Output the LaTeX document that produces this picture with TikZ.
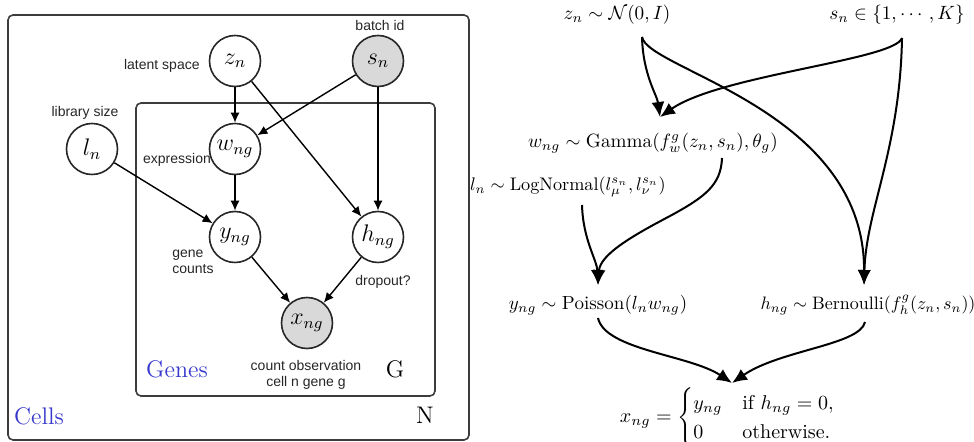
\documentclass[tikz,border=0pt]{standalone}
\usepackage{amsmath}
\usepackage{fontspec}
\usetikzlibrary{arrows.meta,calc}
\newfontfamily\lblfont{Liberation Sans}
\definecolor{platecol}{RGB}{60,60,60}
\definecolor{labelblue}{RGB}{55,55,205}
\definecolor{obsfill}{RGB}{217,217,217}
\begin{document}
\begin{tikzpicture}[x=0.5pt,y=-0.5pt,
  var/.style={circle,draw=black!85,line width=0.8pt,minimum size=25.5pt,inner sep=0pt,font=\large},
  obs/.style={var,fill=obsfill},
  lbl/.style={font=\lblfont\fontsize{7}{8}\selectfont,text=black!85,inner sep=0pt},
  plate/.style={draw=platecol,line width=0.8pt,rounded corners=2.5pt},
  edge/.style={-{Latex[length=5pt,width=4.5pt]},line width=0.7pt},
  formula/.style={inner sep=0pt},
  flow/.style={-{Latex[length=7.5pt,width=6.5pt]},line width=1pt},
]
\useasboundingbox (0,0) rectangle (974,442);
% plates
\draw[plate] (8,15) rectangle (469,440);
\draw[plate] (136,103) rectangle (435,396);
% variables
\node[var] (z) at (235,61) {$z_n$};
\node[obs] (s) at (378,61) {$s_n$};
\node[var] (l) at (92,149) {$l_n$};
\node[var] (w) at (235,149) {$w_{ng}$};
\node[var] (y) at (235,237) {$y_{ng}$};
\node[var] (h) at (378,237) {$h_{ng}$};
\node[obs] (x) at (307,323) {$x_{ng}$};
% edges
\draw[edge] (z) -- (w);
\draw[edge] (s) -- (w);
\draw[edge] (z) -- (h);
\draw[edge] (s) -- (h);
\draw[edge] (l) -- (y);
\draw[edge] (w) -- (y);
\draw[edge] (y) -- (x);
\draw[edge] (h) -- (x);
% labels
\node[lbl,anchor=east] (lat) at (200,66) {latent space};
\node[lbl] (bid) at (380,26) {batch id};
\node[lbl] (lib) at (85,113) {library size};
\node[lbl] (expr) at (177,160) {expression};
\node[lbl,align=left] (gc) at (193,262) {gene\\counts};
\node[lbl] (drop) at (383,282) {dropout?};
\node[lbl,align=center] (cobs) at (306,375) {count observation\\cell n gene g};
\node[font=\large,text=labelblue] (genes) at (177,369) {Genes};
\node[font=\large] (G) at (395,369) {G};
\node[font=\large,text=labelblue] (cells) at (39,416) {Cells};
\node[font=\large] (N) at (425,415) {N};
% right panel formulas
\node[formula,scale=0.96] (zf) at (617,15) {$z_n \sim \mathcal{N}(0, I)$};
\node[formula,scale=0.96] (sf) at (897,15) {$s_n \in \{1, \cdots, K\}$};
\node[formula,scale=0.96] (wf) at (653,143) {$w_{ng} \sim \mathrm{Gamma}(f_w^g(z_n, s_n), \theta_g)$};
\node[formula,scale=0.91] (lf) at (568,187) {$l_n \sim \mathrm{LogNormal}(l_\mu^{s_n}, l_\nu^{s_n})$};
\node[formula,scale=0.95] (yf) at (598,305) {$y_{ng} \sim \mathrm{Poisson}(l_n w_{ng})$};
\node[formula,scale=0.9] (hf) at (868,305) {$h_{ng} \sim \mathrm{Bernoulli}(f_h^g(z_n, s_n))$};
\node[formula] (xf) at (728,418) {$x_{ng} = \begin{cases} y_{ng} & \text{if } h_{ng} = 0,\\ 0 & \text{otherwise.}\end{cases}$};
% flows
\draw[flow] ($(zf)+(25,22)$) .. controls (643,75) and (657,95) .. ($(wf)+(7,-26)$);
\draw[flow] ($(sf)+(5,23)$) .. controls (895,60) and (720,75) .. ($(wf)+(7,-26)$);
\draw[flow] ($(zf)+(25,22)$) .. controls (648,70) and (865,110) .. ($(hf)+(-4,-20)$);
\draw[flow] ($(sf)+(5,23)$) .. controls (900,150) and (866,210) .. ($(hf)+(-4,-20)$);
\draw[flow] ($(wf)+(69,15)$) .. controls (721,185) and (705,197) .. (670,216) .. controls (630,237) and (600,255) .. ($(yf)+(0,-20)$);
\draw[flow] ($(lf)+(14,18)$) .. controls (583,240) and (597,260) .. ($(yf)+(0,-20)$);
\draw[flow] ($(yf)+(0,13)$) .. controls (605,350) and (690,355) .. ($(xf)+(4,-35)$);
\draw[flow] ($(hf)+(-3,17)$) .. controls (860,345) and (780,350) .. ($(xf)+(4,-35)$);
\end{tikzpicture}
\end{document}
